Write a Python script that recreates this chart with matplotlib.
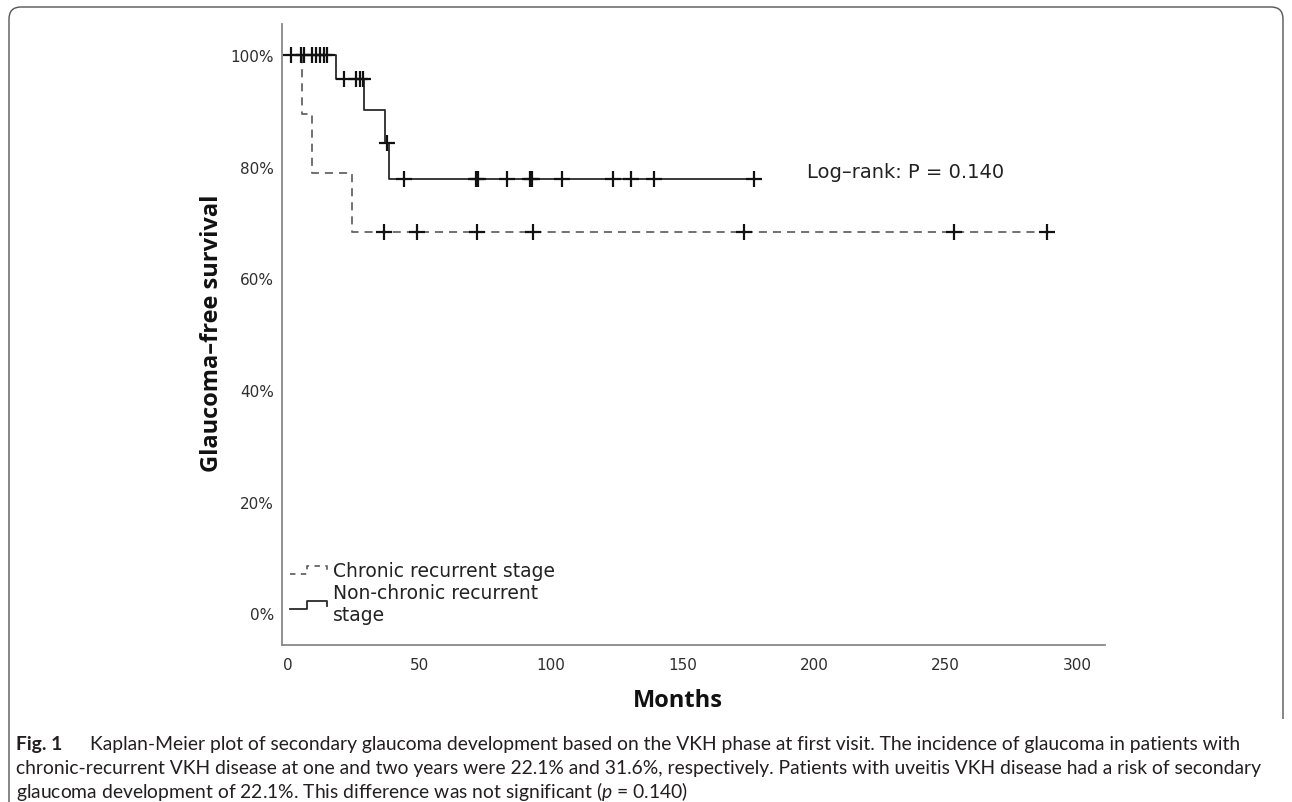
import numpy as np
import matplotlib
matplotlib.use('Agg')
import matplotlib.pyplot as plt
from matplotlib.lines import Line2D
from matplotlib.legend_handler import HandlerBase
from matplotlib.path import Path
from matplotlib.patches import PathPatch
from matplotlib.ticker import PercentFormatter

plt.rcParams['font.family'] = ['DejaVu Sans']
plt.rcParams['mathtext.fontset'] = 'custom'
plt.rcParams['mathtext.it'] = 'Lato:italic'
plt.rcParams['mathtext.rm'] = 'Lato'

# Kaplan-Meier data (months, survival %)
nc_event_t = [18.3, 29.0, 36.9, 38.5]
nc_event_s = [95.7, 90.2, 84.2, 77.9]
nc_last = 177.3
nc_cens = [1.0, 4.8, 6.0, 9.0, 10.5, 12.0, 13.5, 15.0, 21.3, 25.9, 27.4, 28.6,
           37.5, 44.2, 71.6, 72.4, 83.4, 91.9, 92.7, 104.1, 123.7, 130.3, 139.2, 177.3]

c_event_t = [5.2, 9.0, 24.2]
c_event_s = [89.5, 78.9, 68.4]
c_last = 288.7
c_cens = [36.6, 48.9, 71.7, 93.0, 173.3, 253.2, 288.7]

labels = ['Chronic recurrent stage', 'Non-chronic recurrent\nstage']
xticks = [0, 50, 100, 150, 200, 250, 300]
yticks = [0, 20, 40, 60, 80, 100]

caption1 = ('Kaplan-Meier plot of secondary glaucoma development based on the VKH phase at first visit. '
            'The incidence of glaucoma in patients with')
caption2 = ('chronic-recurrent VKH disease at one and two years were 22.1% and 31.6%, respectively. '
            'Patients with uveitis VKH disease had a risk of secondary')
caption3 = 'glaucoma development of 22.1%. This difference was not significant ($p$ = 0.140)'


def km_xy(t, s, last):
    x = [0] + list(t) + [last]
    y = [100] + list(s) + [s[-1]]
    return x, y


def km_at(times, t, s):
    steps = np.array([100] + list(s))
    idx = np.searchsorted(np.array(t), np.array(times), side='right')
    return steps[idx]


class StepHandler(HandlerBase):
    def create_artists(self, legend, orig_handle, xdescent, ydescent, width, height, fontsize, trans):
        xs = np.array([0, 0.45, 0.45, 1, 1]) * width - xdescent
        ys = np.array([0.15, 0.15, 0.75, 0.75, 0.4]) * height - ydescent
        ln = Line2D(xs, ys, color=orig_handle.get_color(), linestyle=orig_handle.get_linestyle(),
                    linewidth=orig_handle.get_linewidth())
        if orig_handle.get_linestyle() != '-':
            ln.set_dashes((3, 3))
        ln.set_transform(trans)
        return [ln]


W, H = 1292, 803
fig = plt.figure(figsize=(W / 100, H / 100), dpi=100)
ax = fig.add_axes([281.7 / W, 1 - 646 / H, (1105 - 281.7) / W, (646 - 25) / H])

cx, cy = km_xy(c_event_t, c_event_s, c_last)
l1, = ax.step(cx, cy, where='post', color='#666666', lw=1.3, dashes=(4.5, 3.3), zorder=2)
ax.plot(c_cens, km_at(c_cens, c_event_t, c_event_s), '+', color='#111111',
        markersize=11, markeredgewidth=1.6, zorder=4)

nx, ny = km_xy(nc_event_t, nc_event_s, nc_last)
l2, = ax.step(nx, ny, where='post', color='#2a2a2a', lw=1.3, zorder=3)
ax.plot(nc_cens, km_at(nc_cens, nc_event_t, nc_event_s), '+', color='#111111',
        markersize=11, markeredgewidth=1.6, zorder=5)

ax.set_xlim(-2.4, 310.6)
ax.set_ylim(-5.7, 105.6)
ax.set_xticks(xticks)
ax.set_yticks(yticks)
ax.yaxis.set_major_formatter(PercentFormatter(decimals=0))
ax.tick_params(length=0, labelsize=11, labelcolor='#2e2e2e')
ax.tick_params(axis='x', pad=9)
ax.tick_params(axis='y', pad=5.5)
for sp in ['top', 'right']:
    ax.spines[sp].set_visible(False)
for sp in ['left', 'bottom']:
    ax.spines[sp].set_color('#888888')
    ax.spines[sp].set_linewidth(1.3)

ax.text(197.3, 79.2, 'Log\u2013rank: P = 0.140', fontsize=14, color='#222222', va='center')

ax.legend([l1, l2], labels, handler_map={Line2D: StepHandler()}, loc='upper left',
          bbox_to_anchor=(0.01, 0.135), frameon=False, fontsize=13.5, handlelength=2.0,
          handletextpad=0.3, labelspacing=0.15, borderpad=0, borderaxespad=0,
          labelcolor='#222222')

fig.text(212 / W, 1 - 333 / H, 'Glaucoma\u2013free survival', rotation=90, fontsize=17,
         fontweight='bold', family='Open Sans', ha='center', va='center', color='#111111')
fig.text(678 / W, 1 - 701 / H, 'Months', fontsize=17, fontweight='bold', family='Open Sans',
         ha='center', va='center', color='#111111')

cap_kw = dict(fontsize=13.9, family='Lato', va='center', color='#231f20')
fig.text(16 / W, 1 - 745 / H, 'Fig. 1', fontweight='bold', **cap_kw)
fig.text(90 / W, 1 - 745 / H, caption1, **cap_kw)
fig.text(16 / W, 1 - 769 / H, caption2, **cap_kw)
fig.text(16 / W, 1 - 792 / H, caption3, **cap_kw)

# rounded frame around the figure
r = 12
pts = [(9, H), (9, 8 + r), (9, 8), (9 + r, 8), (1283 - r, 8), (1283, 8), (1283, 8 + r), (1283, 720)]
codes = [Path.MOVETO, Path.LINETO, Path.CURVE3, Path.CURVE3, Path.LINETO, Path.CURVE3, Path.CURVE3, Path.LINETO]
frame = Path([(x / W, 1 - y / H) for x, y in pts], codes)
fig.patches.append(PathPatch(frame, transform=fig.transFigure, fill=False, edgecolor='#555555', lw=1.0))

fig.savefig('out.png', dpi=100)
